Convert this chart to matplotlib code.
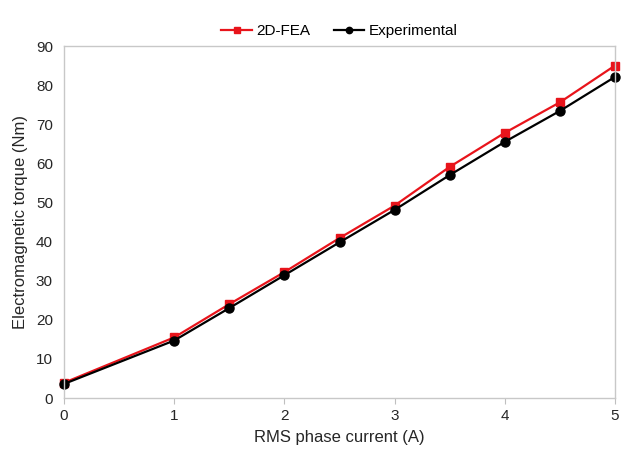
import matplotlib
matplotlib.use('Agg')
import matplotlib.pyplot as plt

plt.rcParams['font.family'] = ['Liberation Sans', 'DejaVu Sans']

corriente = [0, 1, 1.5, 2, 2.5, 3, 3.5, 4, 4.5, 5]
par_fea = [3.9, 15.5, 24.0, 32.2, 40.9, 49.2, 59.1, 67.8, 75.6, 85.0]
par_exp = [3.6, 14.7, 23.0, 31.4, 39.8, 48.1, 57.0, 65.5, 73.4, 82.1]

fig = plt.figure(figsize=(6.34, 4.51), dpi=100)
ax = fig.add_axes([0.101, 0.1175, 0.869, 0.7805])

ax.plot(corriente, par_fea, color='#e8141b', marker='s', markersize=5.5, linewidth=1.6,
        label='2D-FEA', clip_on=False)
ax.plot(corriente, par_exp, color='black', marker='o', markersize=6.5, linewidth=1.6,
        label='Experimental', clip_on=False)

ax.set_xlim(0, 5)
ax.set_ylim(0, 90)
ax.set_xticks([0, 1, 2, 3, 4, 5])
ax.set_yticks(range(0, 91, 10))
ax.tick_params(axis='x', direction='out', length=4, color='#bfbfbf', labelsize=11, pad=4,
               labelcolor='#262626')
ax.tick_params(axis='y', length=0, labelsize=11, pad=8, labelcolor='#262626')
for s in ax.spines.values():
    s.set_color('#c8c8c8')
    s.set_linewidth(1)

ax.set_xlabel('RMS phase current (A)', fontsize=12, labelpad=5, color='#262626')
ax.set_ylabel('Electromagnetic torque (Nm)', fontsize=12, labelpad=6, color='#262626')

ax.legend(loc='lower center', bbox_to_anchor=(0.5, 1.0), ncol=2, frameon=False,
          fontsize=11, handlelength=2, columnspacing=1.5, handletextpad=0.3,
          borderaxespad=0.1, markerscale=0.7)

plt.savefig('out.png', dpi=100)
